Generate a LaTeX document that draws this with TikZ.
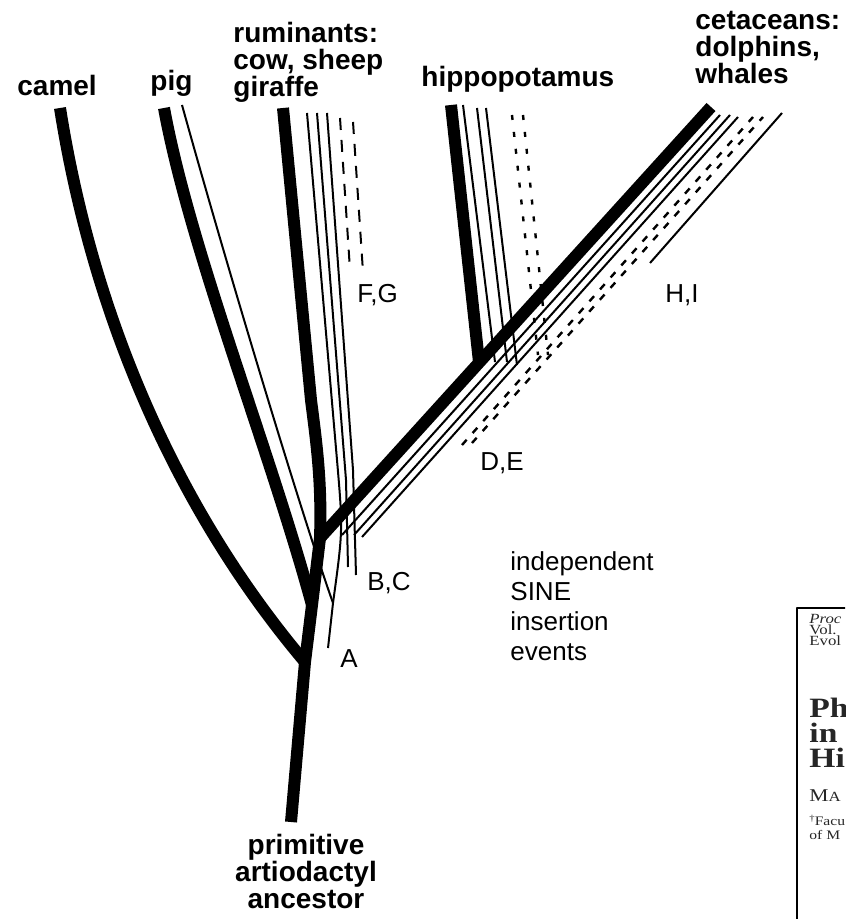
\documentclass[tikz,border=0pt]{standalone}
\usepackage{fontspec}
\setmainfont{Liberation Sans}
\newfontfamily\paperfont{Liberation Serif}[FakeStretch=1.2]

\begin{document}
\begin{tikzpicture}[x=0.5pt, y=-0.5pt, line join=round,
  branch/.style = {line width=6pt},
  insert/.style = {line width=1pt},
  longdash/.style = {line width=1pt, dash pattern=on 6pt off 5pt},
  shortdash/.style = {line width=1.2pt, dash pattern=on 2.5pt off 6pt},
  pairdash/.style = {line width=1.2pt, dash pattern=on 3.5pt off 4.5pt},
  taxon/.style = {font=\bfseries\fontsize{14}{13.5}\selectfont, align=left, inner sep=0pt},
  event/.style = {font=\fontsize{13}{15}\selectfont, align=left, anchor=base west, inner sep=0pt},
  every node/.style = {text=black}]
%\footnotesize
\useasboundingbox (0,0) rectangle (845,919);

% junctions and tips
\coordinate (root) at (291,822);
\coordinate (camelj) at (305,662);
\coordinate (pigj) at (312,605);
\coordinate (cetj) at (320,538);
\coordinate (hippoj) at (479,362);
\coordinate (camel) at (60,108);
\coordinate (pig) at (164,108);
\coordinate (rum) at (283,108);
\coordinate (hippo) at (451,105);
\coordinate (cet) at (711,107);
\coordinate (ajoin) at (333,603);
\coordinate (aend) at (328,648);

% the tree
\draw[branch] (root) -- (camelj) -- (pigj) -- (cetj)
  .. controls (322,480) and (316,440) .. (311,400) -- (rum);
\draw[branch] (camelj) .. controls (185,520) and (95,330) .. (camel);
\draw[branch] (pigj) .. controls (270,450) and (190,250) .. (pig);
\draw[branch] (cetj) -- (cet);
\draw[branch] (hippoj) -- (hippo);

% insertions: pig and ruminants
\draw[insert] (182,105) .. controls (225,260) and (300,510) .. (ajoin);
\draw[insert] (307,113) -- (337,460) .. controls (343,530) .. (ajoin) -- (aend);
\draw[insert] (317,113) -- (346,480) -- (348,567);
\draw[insert] (327,113) -- (353,470) -- (356,575);
\draw[longdash] (340,118) -- (350,270);
\draw[longdash] (353,122) -- (363,272);

% insertions: hippo
\draw[insert] (463,105) -- (495,362);
\draw[insert] (477,108) -- (507,362);
\draw[insert] (486,108) -- (517,365);
\draw[shortdash] (512,115) -- (538,355);
\draw[shortdash] (523,115) -- (548,355);

% insertions: cetaceans
\draw[insert] (342,535) -- (720,115);
\draw[insert] (354,535) -- (730,115);
\draw[insert] (362,537) -- (738,117);
\draw[pairdash] (462,445) -- (753,117);
\draw[pairdash] (472,443) -- (763,117);
\draw[insert] (650,263) -- (782,113);

% taxa
\node[taxon, anchor=base west] (camellab) at (17,96) {camel};
\node[taxon, anchor=base west] (piglab) at (150,91) {pig};
\node[taxon, anchor=north west] (rumlab) at (233,22) {ruminants:\\cow, sheep\\giraffe};
\node[taxon, anchor=base west] (hippolab) at (421,87) {hippopotamus};
\node[taxon, anchor=north west] (cetlab) at (695,11) {cetaceans:\\dolphins,\\whales};
\node[taxon, anchor=north, align=center] (ancestor) at (306,834)
  {primitive\\artiodactyl\\ancestor};

% insertion events
\node[event] (fg) at (357,302) {F,G};
\node[event] (hi) at (665,302) {H,I};
\node[event] (de) at (480,470) {D,E};
\node[event] (bc) at (367,590) {B,C};
\node[event] (a) at (340,667) {A};
\node[event, anchor=north west] (events) at (510,551)
  {independent\\SINE\\insertion\\events};

% corner of the next page
\begin{scope}
\clip (0,0) rectangle (845,919);
\draw[line width=0.75pt] (797,919) -- (797,608) -- (850,608);
\begin{scope}[every node/.style = {anchor=north west, inner sep=0pt, align=left, text=black!85}]
\node[font=\paperfont\fontsize{7}{5.6}\selectfont] (journal) at (809,614)
  {\textit{Proc}\\Vol.\\Evol};
\node[font=\paperfont\bfseries\fontsize{14}{12.5}\selectfont] (title) at (809,698)
  {Ph\\in\\Hi};
\node[font=\paperfont\fontsize{9}{9}\selectfont] (author) at (809,789)
  {M{\fontsize{7}{7}\selectfont A}};
\node[font=\paperfont\fontsize{6.5}{7}\selectfont] (affil) at (809,815)
  {\raisebox{2pt}{\fontsize{4.5}{4.5}\selectfont\dag}Facu\\of M};
\end{scope}
\end{scope}
\end{tikzpicture}
\end{document}
